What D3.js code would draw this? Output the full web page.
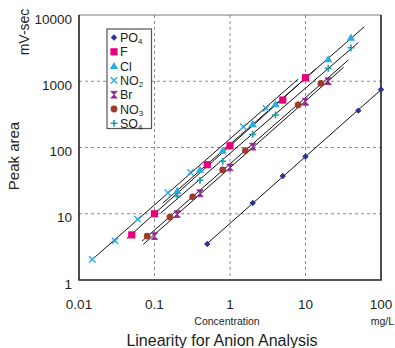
<!DOCTYPE html>
<html>
<head>
<meta charset="utf-8">
<script src="https://cdn.jsdelivr.net/npm/d3@7"></script>
<style>
  body { margin: 0; background: #fff; }
  svg text { font-family: "Liberation Sans", Arial, sans-serif; fill: #231f20; }
</style>
</head>
<body>
<svg id="chart" width="395" height="348"></svg>
<script>
// series names, with subscript part
var names = [['PO', '4'], ['F', ''], ['Cl', ''], ['NO', '2'], ['Br', ''], ['NO', '3'], ['SO', '4']];
var colors = ['#2e3192', '#e6007e', '#29abe2', '#29abe2', '#92278f', '#9e3a2b', '#1b9aa8'];
var shapes = ['diamond', 'square', 'triangle', 'cross', 'bowtie', 'circle', 'plus'];

// concentration (mg/L) and peak area (mV-sec)
var po4Conc = [0.5, 2, 5, 10, 50, 100];
var po4Area = [3.5, 14.5, 37, 73, 360, 750];
var fConc = [0.05, 0.1, 0.5, 1, 5, 10];
var fArea = [4.8, 10, 55, 106, 520, 1130];
var clConc = [0.2, 0.4, 0.8, 2, 4, 20, 40];
var clArea = [22, 46, 89, 224, 450, 2140, 4540];
var no2Conc = [0.015, 0.03, 0.06, 0.15, 0.3, 1.5, 3];
var no2Area = [2.05, 3.9, 8.3, 20.7, 42, 206, 390];
var brConc = [0.1, 0.2, 0.4, 1, 2, 10, 20];
var brArea = [4.6, 9.9, 20.4, 50, 103, 490, 1000];
var no3Conc = [0.08, 0.16, 0.32, 0.8, 1.6, 8, 16];
var no3Area = [4.6, 8.9, 18, 46, 90, 440, 930];
var so4Conc = [0.2, 0.4, 0.8, 2, 4, 20, 40];
var so4Area = [18.5, 32, 62, 158, 310, 1570, 3200];

// x range of each fitted line
var lineRange = [[0.5, 100], [0.043, 14], [0.13, 60], [0.015, 8], [0.071, 32], [0.068, 37], [0.12, 50]];

var xTicks = [0.01, 0.1, 1, 10, 100];
var yTicks = [1, 10, 100, 1000, 10000];

var concs = [po4Conc, fConc, clConc, no2Conc, brConc, no3Conc, so4Conc];
var areas = [po4Area, fArea, clArea, no2Area, brArea, no3Area, so4Area];

var series = names.map(function(n, i) {
    return {
        name: n, color: colors[i], shape: shapes[i], range: lineRange[i],
        points: concs[i].map(function(c, j) { return { c: c, v: areas[i][j] }; })
    };
});

var svg = d3.select('#chart');
var x = d3.scaleLog().domain([0.01, 100]).range([79, 381]);
var y = d3.scaleLog().domain([1, 10000]).range([280, 15]);

// dashed grid
svg.append('g').selectAll('line')
    .data(xTicks.slice(1, -1))
    .enter().append('line')
    .attr('x1', function(d) { return x(d); }).attr('x2', function(d) { return x(d); })
    .attr('y1', y(10000)).attr('y2', y(1))
    .attr('stroke', '#8a8a8a').attr('stroke-dasharray', '3,3');
svg.append('g').selectAll('line')
    .data(yTicks.slice(1, -1))
    .enter().append('line')
    .attr('y1', function(d) { return y(d); }).attr('y2', function(d) { return y(d); })
    .attr('x1', x(0.01)).attr('x2', x(100))
    .attr('stroke', '#8a8a8a').attr('stroke-dasharray', '3,3');

// frame
svg.append('line').attr('x1', x(0.01)).attr('x2', x(100)).attr('y1', y(10000)).attr('y2', y(10000))
    .attr('stroke', '#777').attr('stroke-width', 1);
svg.append('path')
    .attr('d', 'M' + x(0.01) + ',' + y(10000) + 'V' + y(1) + 'H' + x(100) + 'V' + y(10000))
    .attr('fill', 'none').attr('stroke', '#231f20').attr('stroke-width', 1.6);

// regression lines in log-log space
function fit(pts) {
    var lx = pts.map(function(p) { return Math.log10(p.c); });
    var ly = pts.map(function(p) { return Math.log10(p.v); });
    var mx = d3.mean(lx), my = d3.mean(ly);
    var b = d3.sum(lx, function(v, i) { return (v - mx) * (ly[i] - my); }) /
            d3.sum(lx, function(v) { return (v - mx) * (v - mx); });
    return function(c) { return Math.pow(10, my + b * (Math.log10(c) - mx)); };
}

svg.append('g').selectAll('line')
    .data(series)
    .enter().append('line')
    .each(function(s) {
        var f = fit(s.points);
        d3.select(this)
            .attr('x1', x(s.range[0])).attr('y1', y(f(s.range[0])))
            .attr('x2', x(s.range[1])).attr('y2', y(f(s.range[1])));
    })
    .attr('stroke', '#111').attr('stroke-width', 1);

// marker shapes
function marker(sel, shape, color) {
    if (shape === 'diamond') {
        sel.append('path').attr('d', 'M0,-3.2L3.2,0L0,3.2L-3.2,0Z').attr('fill', color);
    } else if (shape === 'square') {
        sel.append('rect').attr('x', -3.6).attr('y', -3.6).attr('width', 7.2).attr('height', 7.2).attr('fill', color);
    } else if (shape === 'triangle') {
        sel.append('path').attr('d', 'M0,-4.2L4.2,3L-4.2,3Z').attr('fill', color);
    } else if (shape === 'cross') {
        sel.append('path').attr('d', 'M-3.2,-3.2L3.2,3.2M-3.2,3.2L3.2,-3.2').attr('stroke', color).attr('stroke-width', 1.4);
    } else if (shape === 'bowtie') {
        sel.append('path').attr('d', 'M-3.2,-3.4H3.2L-3.2,3.4H3.2Z').attr('fill', color).attr('stroke', color).attr('stroke-width', 0.8);
    } else if (shape === 'circle') {
        sel.append('circle').attr('r', 3.4).attr('fill', color);
    } else {
        sel.append('path').attr('d', 'M-3.4,0H3.4M0,-3.4V3.4').attr('stroke', color).attr('stroke-width', 1.6);
    }
}

series.forEach(function(s) {
    svg.append('g').selectAll('g')
        .data(s.points)
        .enter().append('g')
        .attr('transform', function(d) { return 'translate(' + x(d.c) + ',' + y(d.v) + ')'; })
        .each(function() { marker(d3.select(this), s.shape, s.color); });
});

// tick labels
svg.append('g').selectAll('text')
    .data(yTicks)
    .enter().append('text')
    .attr('x', 72).attr('y', function(d) { return y(d) + 4; })
    .attr('dy', '0.35em').attr('text-anchor', 'end')
    .style('font-size', '13.5px')
    .text(function(d) { return d; });
svg.append('g').selectAll('text')
    .data(xTicks)
    .enter().append('text')
    .attr('x', function(d) { return x(d); }).attr('y', 309)
    .attr('text-anchor', 'middle')
    .style('font-size', '13.5px')
    .text(function(d) { return d; });

// axis titles
svg.append('text').attr('x', 227).attr('y', 325).attr('text-anchor', 'middle')
    .style('font-size', '10.5px').text('Concentration');
svg.append('text').attr('x', 394).attr('y', 325).attr('text-anchor', 'end')
    .style('font-size', '10.5px').text('mg/L');
svg.append('text').attr('x', 222).attr('y', 346).attr('text-anchor', 'middle')
    .style('font-size', '16px').text('Linearity for Anion Analysis');
svg.append('text').attr('transform', 'translate(19,156) rotate(-90)').attr('text-anchor', 'middle')
    .style('font-size', '15px').text('Peak area');
svg.append('text').attr('transform', 'translate(29,32) rotate(-90)').attr('text-anchor', 'middle')
    .style('font-size', '14px').text('mV-sec');

// legend
var legend = svg.append('g').attr('transform', 'translate(107,29)');
legend.append('rect').attr('width', 44.5).attr('height', 99.5)
    .attr('fill', '#fff').attr('stroke', '#555').attr('stroke-width', 1.2);
var item = legend.selectAll('g.item')
    .data(series)
    .enter().append('g')
    .attr('class', 'item')
    .attr('transform', function(d, i) { return 'translate(7,' + (8.5 + i * 14.3) + ')'; });
item.each(function(s) { marker(d3.select(this), s.shape, s.color); });
item.append('text').attr('x', 6).attr('dy', '0.36em').style('font-size', '12.5px')
    .each(function(s) {
        var t = d3.select(this);
        t.append('tspan').text(s.name[0]);
        if (s.name[1]) t.append('tspan').attr('dy', 2).style('font-size', '8px').text(s.name[1]);
    });
</script>
</body>
</html>
